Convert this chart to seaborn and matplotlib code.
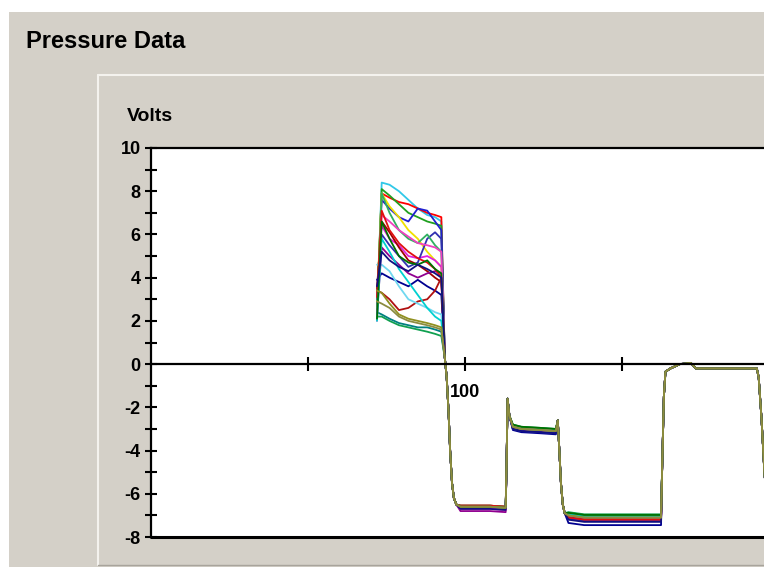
import matplotlib
matplotlib.use("Agg")
import matplotlib.pyplot as plt
from matplotlib.patches import Rectangle
from matplotlib.lines import Line2D
from matplotlib.ticker import MultipleLocator
import seaborn as sns
import pandas as pd

# sample positions inside the burst where the traces spread out
cluster_x = [72.0, 73.5, 76.0, 79.0, 82.0, 85.0, 88.0, 90.5, 92.5]

# volts of every trace at cluster_x
cluster_volts = [
    [2.3, 8.4, 8.3, 8.0, 7.6, 7.2, 6.9, 6.8, 6.6],
    [2.6, 7.9, 7.7, 7.5, 7.4, 7.2, 7.0, 6.9, 6.8],
    [2.5, 8.1, 7.8, 7.4, 7.0, 6.8, 6.6, 6.5, 6.4],
    [2.8, 7.6, 7.2, 6.8, 6.6, 7.2, 7.1, 6.6, 6.2],
    [2.9, 7.9, 7.3, 6.8, 6.2, 5.8, 5.2, 4.8, 4.5],
    [3.0, 6.4, 5.8, 5.5, 5.0, 4.9, 5.0, 4.8, 4.5],
    [3.5, 6.6, 6.1, 5.4, 4.8, 4.6, 4.3, 4.0, 3.8],
    [3.9, 4.2, 4.0, 3.8, 3.6, 3.9, 3.6, 3.4, 3.2],
    [3.4, 3.3, 3.0, 2.5, 2.6, 2.9, 3.0, 3.4, 4.0],
    [2.2, 2.2, 2.0, 1.8, 1.7, 1.6, 1.5, 1.4, 1.3],
    [2.4, 2.3, 2.1, 1.9, 1.8, 1.7, 1.7, 1.6, 1.5],
    [4.6, 4.6, 4.3, 3.6, 3.0, 2.8, 2.6, 2.4, 2.3],
    [2.3, 5.4, 5.0, 4.6, 4.2, 4.0, 4.2, 4.3, 4.2],
    [3.0, 6.0, 5.5, 5.0, 4.5, 4.7, 5.8, 6.1, 5.8],
    [2.6, 7.9, 7.0, 6.2, 5.8, 5.6, 6.0, 5.5, 5.2],
    [2.0, 6.9, 6.6, 6.2, 5.9, 5.6, 5.5, 5.4, 5.2],
    [3.1, 7.1, 6.2, 5.6, 5.2, 4.9, 4.7, 4.4, 4.0],
    [2.0, 5.8, 5.2, 4.4, 3.8, 3.2, 2.6, 2.2, 2.0],
    [2.1, 6.6, 5.8, 5.0, 4.7, 4.6, 4.8, 4.4, 4.2],
    [3.6, 5.2, 4.8, 4.5, 4.3, 4.6, 4.4, 4.2, 4.0],
    [3.4, 3.3, 2.8, 2.3, 2.1, 2.0, 1.9, 1.8, 1.7],
    [2.9, 2.8, 2.6, 2.2, 2.0, 1.9, 1.8, 1.7, 1.6],
]

trace_colors = [
    "#30C8E8", "#FF0000", "#20A020", "#2020D0", "#F0E000", "#E020E0",
    "#A00000", "#000090", "#B01010", "#10A050", "#008080", "#70D8F0",
    "#900090", "#3030B0", "#30B060", "#F040C0", "#E01010", "#00D0D0",
    "#007000", "#101080", "#909020", "#8C8C40",
]

# per-trace shift on the three flat parts (-6.6 V, -3 V, -7.1 V)
plateau_offsets = [
    [0.0, 0.0, 0.05], [0.05, 0.05, 0.1], [0.0, 0.05, 0.1], [-0.05, -0.1, -0.05],
    [0.0, 0.05, 0.1], [-0.1, 0.0, 0.0], [0.0, 0.0, 0.0], [-0.05, -0.15, -0.35],
    [0.05, 0.0, -0.05], [0.05, 0.1, 0.15], [0.0, 0.0, 0.0], [0.0, 0.05, 0.05],
    [-0.2, -0.05, -0.1], [-0.05, -0.1, -0.15], [0.0, 0.08, 0.12], [-0.1, 0.0, 0.0],
    [0.05, 0.0, -0.1], [0.0, 0.0, 0.05], [0.0, 0.1, 0.12], [-0.1, -0.1, -0.2],
    [0.0, 0.0, 0.0], [0.0, 0.0, 0.0],
]

# common shape after the burst
tail_x = [93.6, 94.2, 94.8, 95.3, 95.9, 96.5, 97.3, 98.6, 103.5, 108.0, 113.0,
          113.3, 113.6, 114.2, 115.3, 118.0, 124.0, 129.0, 129.6, 130.1, 130.6,
          131.2, 131.8, 133.0, 138.0, 150.0, 162.5, 162.9, 163.4, 163.9, 165.5,
          168.5, 172.0, 173.6, 193.0, 193.6, 194.5, 195.5, 196.5]
tail_y = [0.3, -0.6, -2.2, -4.0, -5.5, -6.2, -6.5, -6.6, -6.6, -6.6, -6.65,
          -4.5, -1.6, -2.4, -2.9, -3.0, -3.05, -3.1, -2.6, -4.0, -5.5,
          -6.5, -6.9, -7.0, -7.1, -7.1, -7.1, -4.5, -1.5, -0.35, -0.2,
          0.0, 0.05, -0.2, -0.2, -0.6, -2.5, -5.2, -6.0]
tail_plateau = [0, 0, 0, 0, 0, 0, 0, 1, 1, 1, 1,
                0, 0, 0, 2, 2, 2, 2, 0, 0, 0,
                0, 0, 3, 3, 3, 3, 0, 0, 0, 0,
                0, 0, 0, 0, 0, 0, 0, 0]

x_ticks = [50, 100, 150]
x_tick_labels = ["", "100", ""]

rows = []
for i, (levels, offs) in enumerate(zip(cluster_volts, plateau_offsets)):
    name = f"t{i:02d}"
    for x, v in zip(cluster_x, levels):
        rows.append((name, x, v))
    for x, v, p in zip(tail_x, tail_y, tail_plateau):
        rows.append((name, x, v + (offs[p - 1] if p else 0.0)))
df = pd.DataFrame(rows, columns=["trace", "time", "volts"])
order = [f"t{i:02d}" for i in range(len(cluster_volts))]

sns.set_style("white")
plt.rcParams["font.family"] = ["Liberation Sans", "DejaVu Sans"]
plt.rcParams["font.weight"] = "bold"
plt.rcParams["text.color"] = "black"
plt.rcParams["axes.unicode_minus"] = False

W, H = 764, 567
fig = plt.figure(figsize=(W / 100, H / 100), dpi=100)
fig.patch.set_facecolor("white")


def box(x0, y0, x1, y1, **kw):
    # pixel box measured from the top-left corner
    fig.patches.append(Rectangle((x0 / W, 1 - y1 / H), (x1 - x0) / W, (y1 - y0) / H,
                                 transform=fig.transFigure, zorder=-5, **kw))


box(9, 12, W, H, fc="#D4D0C8", ec="none")
fig.add_artist(Line2D([98 / W, 1], [1 - 75 / H] * 2, color="#F4F2EE", lw=1.5, zorder=-4))
fig.add_artist(Line2D([98 / W] * 2, [1 - 75 / H, 2 / H], color="#F4F2EE", lw=1.5, zorder=-4))
fig.add_artist(Line2D([98 / W, 1], [2 / H] * 2, color="#A8A49C", lw=1.0, zorder=-4))

fig.text(26 / W, 1 - 41 / H, "Pressure Data", fontsize=17, fontweight="bold",
         ha="left", va="center", color="black")
fig.text(127 / W, 1 - 117 / H, "Volts", fontsize=14, fontweight="bold",
         ha="left", va="center", color="black")

ax = fig.add_axes([151 / W, 30 / H, (W - 151) / W, 389 / H])
ax.set_zorder(3)
ax.set_facecolor("white")
sns.lineplot(data=df, x="time", y="volts", hue="trace", hue_order=order,
             palette=trace_colors, estimator=None, sort=False, legend=False,
             lw=1.3, ax=ax)

ax.set_xlim(0, 195.3)
ax.set_ylim(-8, 10)
ax.set_xlabel("")
ax.set_ylabel("")

ax.spines["right"].set_visible(False)
ax.spines["bottom"].set_position(("data", 0))
for s in ["top", "left", "bottom"]:
    ax.spines[s].set_color("black")
    ax.spines[s].set_linewidth(1.6)
ax.axhline(-8, color="black", lw=2.2, clip_on=False)

ax.yaxis.set_major_locator(MultipleLocator(2))
ax.yaxis.set_minor_locator(MultipleLocator(1))
ax.tick_params(axis="y", which="both", direction="inout", length=9, width=1.5,
               left=True, labelsize=13, pad=3, colors="black")
ax.set_xticks(x_ticks)
ax.set_xticklabels(x_tick_labels)
ax.tick_params(axis="x", direction="inout", length=10, width=1.5, bottom=True,
               labelsize=13, pad=9, colors="black")

plt.savefig("out.png", dpi=100)
